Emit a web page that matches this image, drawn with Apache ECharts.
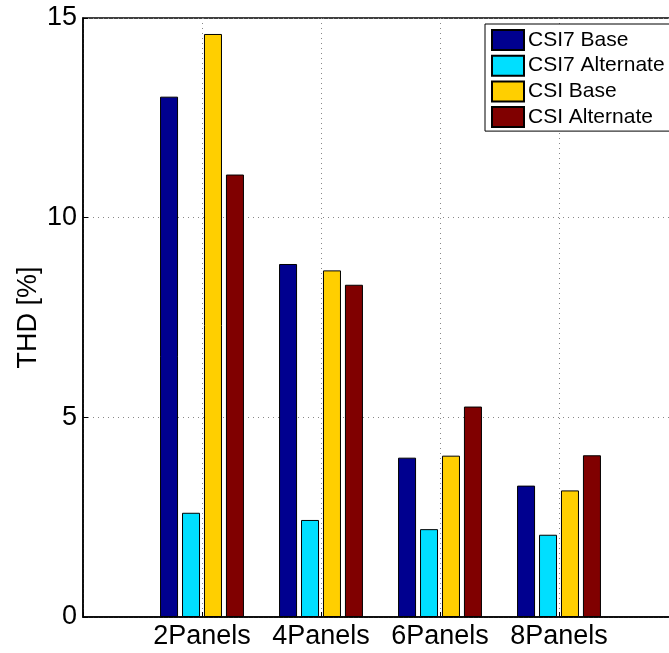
<!DOCTYPE html>
<html>
<head>
<meta charset="utf-8">
<script src="https://cdn.jsdelivr.net/npm/echarts@6/dist/echarts.min.js"></script>
<style>
  html, body { margin: 0; padding: 0; background: #fff; }
  #chart { width: 669px; height: 653px; }
</style>
</head>
<body>
<div id="chart"></div>
<script>
// Panel configurations (blank slots pad the axis to 0..5)
const categories = ['', '2Panels', '4Panels', '6Panels', '8Panels', ''];
const seriesNames = ['CSI7 Base', 'CSI7 Alternate', 'CSI Base', 'CSI Alternate'];
const csi7Base      = [null, 13.03, 8.84, 3.99, 3.29, null];
const csi7Alternate = [null, 2.61, 2.43, 2.20, 2.06, null];
const csiBase       = [null, 14.60, 8.68, 4.04, 3.17, null];
const csiAlternate  = [null, 11.08, 8.32, 5.27, 4.05, null];
const yTicks = [0, 5, 10, 15];

const colors = ['#00008F', '#00DFFF', '#FFCF00', '#800000'];
const font = "'Liberation Sans', Arial, Helvetica, sans-serif";
const values = [csi7Base, csi7Alternate, csiBase, csiAlternate];

const chart = echarts.init(document.getElementById('chart'), null, { renderer: 'canvas' });

chart.setOption({
  animation: false,
  backgroundColor: '#fff',
  grid: {
    left: 83, top: 18, width: 595, height: 599,
    outerBoundsMode: 'none',
    containLabel: false,
    show: true, borderColor: '#000', borderWidth: 1.5, backgroundColor: 'transparent'
  },
  legend: {
    orient: 'vertical',
    left: 485, top: 24,
    padding: [5, 6, 3, 6],
    itemWidth: 32, itemHeight: 20, itemGap: 3.7,
    backgroundColor: '#fff',
    borderColor: '#000', borderWidth: 1,
    borderRadius: 0,
    icon: 'rect',
    textStyle: { fontFamily: font, fontSize: 21, lineHeight: 20, color: '#000', padding: [0, 0, 0, -1] },
    data: seriesNames
  },
  xAxis: {
    type: 'category',
    data: categories,
    boundaryGap: false,
    axisLine: { show: true, lineStyle: { color: '#000', width: 1.5 } },
    axisTick: { show: true, inside: true, length: 5, lineStyle: { color: '#000' } },
    axisLabel: { fontFamily: font, fontSize: 27, color: '#000', margin: 6, interval: 0 },
    splitLine: { show: true, lineStyle: { color: '#888', type: [1, 4], width: 1 } }
  },
  yAxis: {
    type: 'value',
    min: yTicks[0], max: yTicks[yTicks.length - 1], interval: 5,
    name: 'THD [%]',
    nameLocation: 'middle',
    nameGap: 41,
    nameMoveOverlap: false,
    nameTextStyle: { fontFamily: font, fontSize: 27, color: '#000' },
    axisLine: { show: true, lineStyle: { color: '#000', width: 1.5 } },
    axisTick: { show: true, inside: true, length: 5, lineStyle: { color: '#000' } },
    axisLabel: { fontFamily: font, fontSize: 27, color: '#000', margin: 6 },
    splitLine: { show: true, lineStyle: { color: '#888', type: [1, 4], width: 1 } }
  },
  series: seriesNames.map((name, i) => ({
    name: name,
    type: 'bar',
    data: values[i],
    barWidth: 18,
    barGap: '22%',
    itemStyle: { color: colors[i], borderColor: '#000', borderWidth: 1 }
  }))
});
</script>
</body>
</html>
